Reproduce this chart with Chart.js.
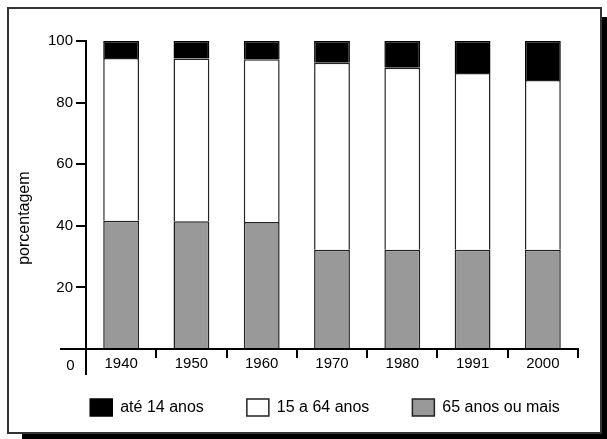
<!DOCTYPE html>
<html>
<head>
<meta charset="utf-8">
<script src="https://cdn.jsdelivr.net/npm/chart.js@4/dist/chart.umd.min.js"></script>
<style>
  html, body { margin: 0; padding: 0; background: #fff; }
  #wrap { position: relative; width: 607px; height: 439px; overflow: hidden; }
  #frame { position: absolute; left: 7px; top: 7px; width: 595px; height: 427px; box-sizing: border-box; border: 2px solid #333; }
  #shadowR { position: absolute; left: 602px; top: 17px; width: 5px; height: 422px; background: #000; }
  #shadowB { position: absolute; left: 22px; top: 434px; width: 585px; height: 5px; background: #000; }
  #chart { position: absolute; left: 0; top: 0; }
</style>
</head>
<body>
<div id="wrap">
  <div id="frame"></div>
  <div id="shadowR"></div>
  <div id="shadowB"></div>
  <canvas id="chart" width="607" height="439"></canvas>
</div>
<script>
const anos = ["1940", "1950", "1960", "1970", "1980", "1991", "2000"];
// values, in percent (bottom to top of each bar)
const cinza = [41.6, 41.5, 41.2, 32.2, 32.2, 32.2, 32.2];
const branco = [52.9, 52.8, 52.9, 60.7, 59.1, 57.4, 55.1];
const preto = [5.5, 5.7, 5.9, 7.1, 8.7, 10.4, 12.7];
const yTicks = [0, 20, 40, 60, 80, 100];
const yTitulo = "porcentagem";

const FONT = "'Liberation Sans', Arial, Helvetica, sans-serif";

// axis lines crossing below/left of the origin, the lone "0" and the y title
const axisCross = {
  id: "axisCross",
  afterLayout(chart) {
    const lg = chart.legend;
    lg.left += 31;
    lg.right += 31;
    lg.top -= 13;
    lg.bottom -= 13;
    // let the year labels overhang the (short) x scale box without being clipped
    chart.scales.x.bottom += 20;
  },
  afterDraw(chart) {
    const { ctx, scales: { x, y } } = chart;
    const y0 = y.getPixelForValue(yTicks[0]);
    const left = x.left;
    ctx.save();
    ctx.strokeStyle = "#000";
    ctx.lineWidth = 2;
    ctx.beginPath();
    ctx.moveTo(left - 26, y0);
    ctx.lineTo(left, y0);
    ctx.moveTo(left, y0);
    ctx.lineTo(left, y0 + 26);
    ctx.stroke();
    ctx.fillStyle = "#000";
    ctx.font = "15px " + FONT;
    ctx.textAlign = "center";
    ctx.textBaseline = "middle";
    ctx.fillText(String(yTicks[0]), left - 15.5, y0 + 17);

    ctx.translate(25, y.getPixelForValue(42.5));
    ctx.rotate(-Math.PI / 2);
    ctx.font = "16px " + FONT;
    ctx.fillText(yTitulo, 0, 0);
    ctx.restore();
  }
};

new Chart(document.getElementById("chart").getContext("2d"), {
  type: "bar",
  data: {
    labels: anos,
    datasets: [
      { label: "65 anos ou mais", data: cinza, backgroundColor: "#999999", borderColor: "#222", borderWidth: 1.5 },
      { label: "15 a 64 anos", data: branco, backgroundColor: "#ffffff", borderColor: "#222", borderWidth: 1.5 },
      { label: "até 14 anos", data: preto, backgroundColor: "#000000", borderColor: "#000", borderWidth: 1.5 }
    ]
  },
  options: {
    responsive: false,
    animation: false,
    events: [],
    layout: { padding: { left: 10, right: 29, top: 41, bottom: 0 } },
    datasets: { bar: { categoryPercentage: 0.51, barPercentage: 1 } },
    plugins: {
      tooltip: { enabled: false },
      legend: {
        position: "bottom",
        reverse: true,
        labels: {
          boxWidth: 22,
          boxHeight: 17,
          padding: 43,
          color: "#000",
          font: { size: 16, family: FONT }
        }
      }
    },
    scales: {
      x: {
        stacked: true,
        offset: true,
        afterFit: s => { s.height = 20; },
        grid: { offset: true, drawOnChartArea: false, color: "#000", lineWidth: 2, tickLength: 9 },
        border: { color: "#000", width: 2 },
        ticks: { color: "#000", padding: -3, font: { size: 15, family: FONT } }
      },
      y: {
        stacked: true,
        min: 0,
        max: 100,
        afterFit: s => { s.width = 76; },
        afterBuildTicks: s => { s.ticks = yTicks.map(v => ({ value: v })); },
        grid: { drawOnChartArea: false, color: "#000", lineWidth: 2, tickLength: 10 },
        border: { color: "#000", width: 2 },
        ticks: {
          color: "#000",
          padding: 3,
          font: { size: 15, family: FONT },
          callback: v => (v === 0 ? "" : v)
        }
      }
    }
  },
  plugins: [axisCross]
});
</script>
</body>
</html>
